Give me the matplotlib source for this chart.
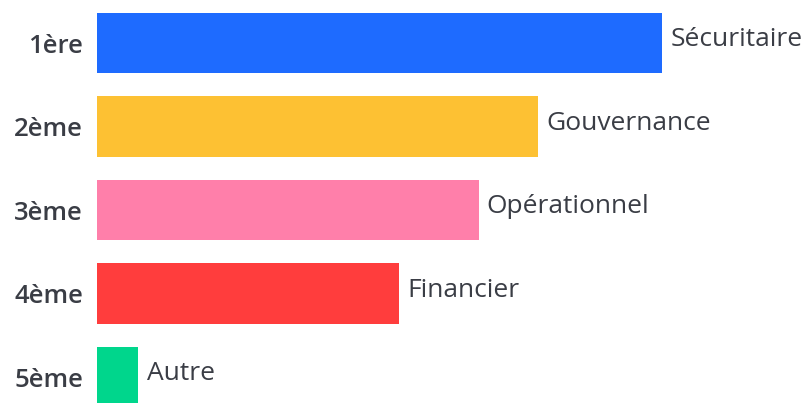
import matplotlib
matplotlib.use("Agg")
import matplotlib.pyplot as plt

ranks = ["1ère", "2ème", "3ème", "4ème", "5ème"]
categories = ["Sécuritaire", "Gouvernance", "Opérationnel", "Financier", "Autre"]
values = [100, 78, 67.5, 53.5, 7.3]
colors = ["#1E6BFF", "#FDC133", "#FF7FAA", "#FF3D3D", "#00D68C"]

text_color = "#3A3D45"
plt.rcParams['font.family'] = ['Open Sans', 'DejaVu Sans']

fig = plt.figure(figsize=(8.12, 4.03), dpi=100)
ax = fig.add_axes([97/812, 0, (812-97)/812, 1])

pos = list(range(len(ranks)))
ax.barh(pos, values, height=0.72, color=colors)
ax.set_xlim(0, 126.5)
ax.set_ylim(4.311, -0.515)

ax.set_yticks(pos)
ax.set_yticklabels(ranks, fontsize=18.5, fontweight='semibold', color=text_color)
ax.tick_params(axis='y', length=0, pad=10)
ax.set_xticks([])
for s in ax.spines.values():
    s.set_visible(False)

for p, v, c in zip(pos, values, categories):
    ax.annotate(c, xy=(v, p), xytext=(6, 2.5), textcoords='offset points',
                ha='left', va='center', fontsize=19, color=text_color)

fig.savefig("out.png", dpi=100)
